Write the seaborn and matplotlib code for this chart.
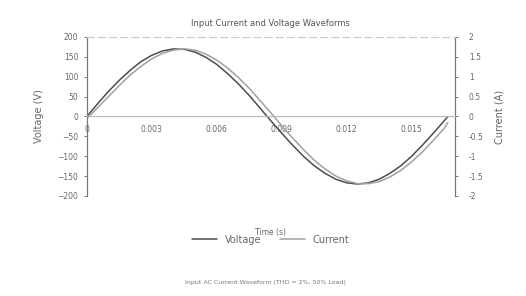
import seaborn as sns
import matplotlib.pyplot as plt
import pandas as pd

# time samples (s) and waveform values
time_s = [0, 0.0005, 0.001, 0.0015, 0.002, 0.0025, 0.003, 0.0035, 0.004, 0.0045,
          0.005, 0.0055, 0.006, 0.0065, 0.007, 0.0075, 0.008, 0.0085, 0.009, 0.0095,
          0.01, 0.0105, 0.011, 0.0115, 0.012, 0.0125, 0.013, 0.0135, 0.014, 0.0145,
          0.015, 0.0155, 0.016, 0.0165, 0.01667]
voltage_v = [0, 32, 63, 91, 116, 138, 154, 165, 170, 169,
             162, 149, 131, 108, 82, 53, 21, -11, -42, -72,
             -100, -124, -143, -158, -167, -170, -167, -158, -143, -124,
             -100, -72, -42, -11, 0]
current_a = [-0.05, 0.22, 0.50, 0.78, 1.04, 1.26, 1.45, 1.59, 1.67, 1.70,
             1.67, 1.57, 1.42, 1.22, 0.98, 0.71, 0.40, 0.09, -0.23, -0.54,
             -0.83, -1.10, -1.32, -1.50, -1.62, -1.69, -1.69, -1.64, -1.52, -1.36,
             -1.14, -0.89, -0.60, -0.30, -0.15]

x_ticks = [0, 0.003, 0.006, 0.009, 0.012, 0.015]
v_ticks = [-200, -150, -100, -50, 0, 50, 100, 150, 200]
i_ticks = [-2, -1.5, -1, -0.5, 0, 0.5, 1, 1.5, 2]

df = pd.DataFrame({'t': time_s, 'v': voltage_v, 'i': current_a})

sns.set_style('white')
plt.rcParams['font.family'] = ['DejaVu Sans']
fig = plt.figure(figsize=(5.26, 2.96), dpi=100)
ax = fig.add_axes([0.165, 0.338, 0.70, 0.537])
ax2 = ax.twinx()

sns.lineplot(data=df, x='t', y='v', ax=ax, color='#4d4d4d', linewidth=1.1, label='Voltage', legend=False)
sns.lineplot(data=df, x='t', y='i', ax=ax2, color='#a0a0a0', linewidth=1.1, label='Current', legend=False)

ax.set_xlim(0, 0.017)
ax.set_ylim(-200, 200)
ax2.set_ylim(-2, 2)
ax.set_xticks(x_ticks)
ax.set_xticklabels([f'{t:g}' for t in x_ticks])
ax.set_yticks(v_ticks)
ax2.set_yticks(i_ticks)
ax2.set_yticklabels([f'{t:g}' for t in i_ticks])

for a in (ax, ax2):
    a.spines['bottom'].set_position('zero')
    a.spines['bottom'].set_color('#bbbbbb')
    a.spines['bottom'].set_linewidth(0.8)
    a.spines['top'].set_color('#cccccc')
    a.spines['top'].set_linestyle((0, (6, 4)))
    a.spines['left'].set_color('#777777')
    a.spines['right'].set_color('#777777')
    a.tick_params(labelsize=5.5, colors='#666666', length=2, width=0.6)

ax.tick_params(axis='x', pad=4, direction='out')
ax.tick_params(axis='y', left=True, pad=4)
ax2.tick_params(axis='y', right=True, pad=8)

ax.set_xlabel('Time (s)', fontsize=5.5, color='#666666')
ax.xaxis.set_label_coords(0.5, -0.2)
ax.set_ylabel('Voltage (V)', fontsize=7, color='#666666', labelpad=10)
ax2.set_ylabel('Current (A)', fontsize=7, color='#666666', labelpad=8)
ax.set_title('Input Current and Voltage Waveforms', fontsize=6, color='#555555', pad=8)

h1, l1 = ax.get_legend_handles_labels()
h2, l2 = ax2.get_legend_handles_labels()
fig.legend(h1 + h2, l1 + l2, loc='center', bbox_to_anchor=(0.515, 0.19), ncol=2,
           frameon=False, fontsize=7, handlelength=2.5, columnspacing=2.0,
           labelcolor='#666666')

fig.text(0.505, 0.045, 'Input AC Current Waveform (THD = 2%, 50% Load)',
         ha='center', va='center', fontsize=4.5, color='#777777')

fig.savefig('out.png', dpi=100, facecolor='white')
